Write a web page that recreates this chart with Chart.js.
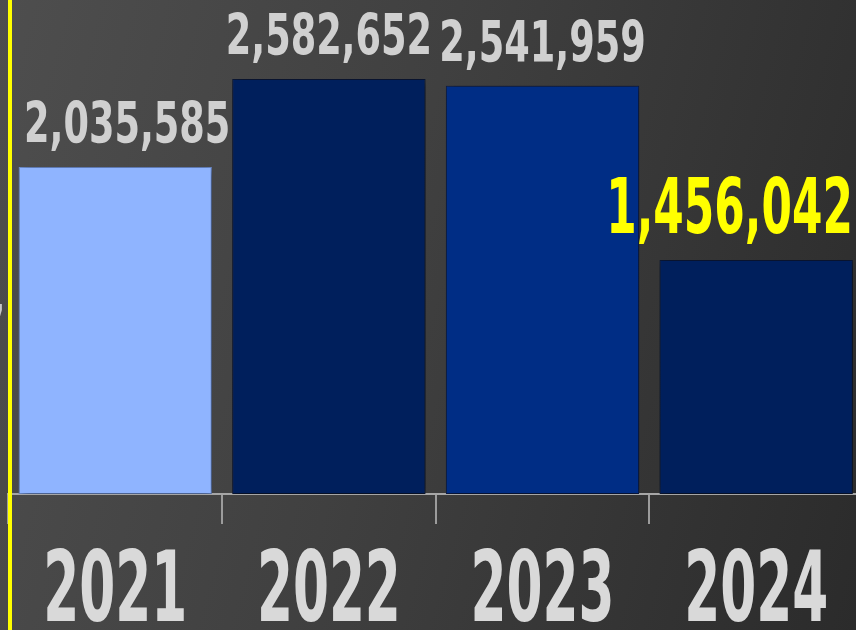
<!DOCTYPE html>
<html>
<head>
<meta charset="utf-8">
<script src="https://cdn.jsdelivr.net/npm/chart.js@4/dist/chart.umd.min.js"></script>
<style>
  html, body { margin: 0; padding: 0; overflow: hidden; }
  body {
    width: 856px; height: 630px;
    background: linear-gradient(105deg, #4e4e4e 0%, #404040 45%, #2b2b2b 100%);
  }
  #wrap { position: relative; width: 866px; height: 630px; }
</style>
</head>
<body>
<div id="wrap"><canvas id="chart"></canvas></div>
<script>
// data
const years = ['2021', '2022', '2023', '2024'];
const visitors = [2035585, 2582652, 2541959, 1456042];
const barColors = ['#8fb4ff', '#001f5c', '#002d85', '#001f5c'];
const barBorders = ['#7394d8', '#0b1838', '#0b1c4a', '#0b1838'];
const highlightIndex = 3;

const labelFont = '"DejaVu Sans Condensed", "Liberation Sans Narrow", sans-serif';

// works out font size and horizontal squeeze for a given digit height / width
function textBox(ctx, text, capH, digitW) {
  ctx.save();
  ctx.font = 'bold 100px ' + labelFont;
  const m = ctx.measureText('0');
  const size = 100 * capH / m.actualBoundingBoxAscent;
  const sx = digitW / m.width;
  const w = ctx.measureText(text).width * sx;
  ctx.restore();
  return { size, sx, w };
}

function drawSqueezed(ctx, text, x, y, capH, digitW, color) {
  const b = textBox(ctx, text, capH, digitW);
  ctx.save();
  ctx.font = 'bold ' + b.size + 'px ' + labelFont;
  ctx.fillStyle = color;
  ctx.textAlign = 'center';
  ctx.textBaseline = 'alphabetic';
  ctx.translate(x, y);
  ctx.scale(b.sx * 100 / b.size, 1);
  ctx.fillText(text, 0, 0);
  ctx.restore();
}

const decoPlugin = {
  id: 'deco',
  beforeDatasetsDraw(chart) {
    const ctx = chart.ctx;
    ctx.save();
    ctx.shadowColor = 'rgba(0,0,0,0.55)';
    ctx.shadowBlur = 10;
    ctx.shadowOffsetX = 2;
    ctx.shadowOffsetY = 2;
  },
  afterDatasetsDraw(chart) {
    const ctx = chart.ctx;
    ctx.restore();
    // value labels
    const meta = chart.getDatasetMeta(0);
    meta.data.forEach((bar, i) => {
      const big = i === highlightIndex;
      const capH = big ? 57 : 43;
      const digitW = big ? 30.5 : 25.5;
      const text = visitors[i].toLocaleString('en-US');
      const w = textBox(ctx, text, capH, digitW).w;
      let x = bar.x;
      x = Math.max(x, 24 + w / 2);
      x = Math.min(x, 853 - w / 2);
      drawSqueezed(ctx, text, x, bar.y - (big ? 27 : 24), capH, digitW,
        big ? '#ffff00' : '#d0d0d0');
    });
  },
  afterDraw(chart) {
    const ctx = chart.ctx;
    const xs = chart.scales.x;
    // year labels
    chart.data.labels.forEach((lab, i) => {
      drawSqueezed(ctx, lab, xs.getPixelForValue(i), 621, 73, 36, '#d9d9d9');
    });
    // cut-off glyph at left edge
    drawSqueezed(ctx, '7', -8, 346, 43, 25.5, '#c8c8c8');
    // yellow marker line
    ctx.save();
    ctx.fillStyle = '#ffff00';
    ctx.fillRect(chart.chartArea.left - 0.4, 0, 4, chart.height);
    ctx.restore();
  }
};

new Chart(document.getElementById('chart'), {
  type: 'bar',
  data: {
    labels: years,
    datasets: [{
      data: visitors,
      backgroundColor: barColors,
      borderColor: barBorders,
      borderWidth: 1,
      borderSkipped: false,
      categoryPercentage: 1,
      barPercentage: 0.905
    }]
  },
  options: {
    responsive: true,
    maintainAspectRatio: false,
    animation: false,
    layout: { padding: { left: 8.4, right: 3, top: 0, bottom: 0 } },
    plugins: { legend: { display: false }, tooltip: { enabled: false } },
    scales: {
      x: {
        offset: true,
        grid: {
          offset: true,
          drawOnChartArea: false,
          drawTicks: true,
          tickLength: 30,
          color: '#9c9c9c',
          lineWidth: 2
        },
        border: { display: true, color: '#a6a6a6', width: 2 },
        ticks: { display: false },
        afterFit(scale) { scale.height = 136; }
      },
      y: {
        display: false,
        min: 0,
        max: 3075000
      }
    }
  },
  plugins: [decoPlugin]
});
</script>
</body>
</html>
